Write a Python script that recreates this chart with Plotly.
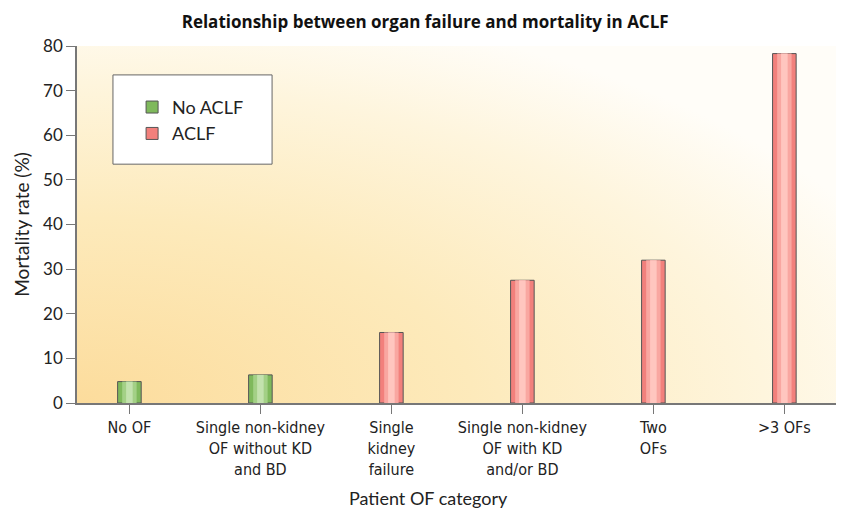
import base64
import plotly.graph_objects as go

# data
categories = [
    "No OF",
    "Single non-kidney<br>OF without KD<br>and BD",
    "Single<br>kidney<br>failure",
    "Single non-kidney<br>OF with KD<br>and/or BD",
    "Two<br>OFs",
    ">3 OFs",
]
no_aclf_cats = categories[:2]
no_aclf_vals = [4.8, 6.3]
aclf_cats = categories[2:]
aclf_vals = [15.8, 27.5, 32.0, 78.3]
y_ticks = [0, 10, 20, 30, 40, 50, 60, 70, 80]

# warm radial background, drawn as an svg image behind the plot area
svg = """<svg xmlns='http://www.w3.org/2000/svg' width='765' height='357' preserveAspectRatio='none'>
<defs><radialGradient id='g' cx='0' cy='1' r='1.15' gradientUnits='objectBoundingBox'>
<stop offset='0' stop-color='#fcdc9c'/>
<stop offset='0.45' stop-color='#fdeabb'/>
<stop offset='0.78' stop-color='#fef5dd'/>
<stop offset='1' stop-color='#fffdf8'/>
</radialGradient></defs>
<rect width='100%' height='100%' fill='url(#g)'/></svg>"""
bg_src = "data:image/svg+xml;base64," + base64.b64encode(svg.encode()).decode()

outline = "#555555"
label_font = "Lato, Open Sans, sans-serif"

fig = go.Figure()

fig.add_trace(go.Bar(
    x=no_aclf_cats, y=no_aclf_vals, name="No ACLF", width=0.18,
    marker=dict(color="#7fb95c", line=dict(color=outline, width=1)),
))
fig.add_trace(go.Bar(
    x=aclf_cats, y=aclf_vals, name="ACLF", width=0.18,
    marker=dict(color="#f2807c", line=dict(color=outline, width=1)),
))
# lighter strips down the middle of each bar for the rounded look
for cats, vals, mid, light in [
    (no_aclf_cats, no_aclf_vals, "#a3d086", "#c3e2ae"),
    (aclf_cats, aclf_vals, "#f9a7a1", "#ffc6bf"),
]:
    fig.add_trace(go.Bar(
        x=cats, y=vals, width=0.11, showlegend=False, hoverinfo="skip",
        marker=dict(color=mid, line=dict(width=0)),
    ))
    fig.add_trace(go.Bar(
        x=cats, y=vals, width=0.05, showlegend=False, hoverinfo="skip",
        marker=dict(color=light, line=dict(width=0)),
    ))

# the page body adds an 8px margin, so the figure is 8px smaller than the window
fig.update_layout(
    width=836, height=500,
    margin=dict(l=69, r=2, t=38, b=105),
    paper_bgcolor="white", plot_bgcolor="white",
    barmode="overlay",
    title=dict(
        text="<b>Relationship between organ failure and mortality in ACLF</b>",
        x=0.499, xanchor="center", y=0.972, yanchor="middle",
        font=dict(family="Open Sans, sans-serif", size=17, color="#111"),
    ),
    images=[dict(source=bg_src, xref="paper", yref="paper", x=0, y=1,
                 sizex=1, sizey=1, sizing="stretch", layer="below")],
    shapes=[dict(type="rect", xref="paper", yref="paper",
                 x0=0.047, x1=0.255, y0=0.669, y1=0.919,
                 fillcolor="white", line=dict(color="#666", width=1), layer="below")],
    annotations=[dict(text="Patient OF category", xref="paper", yref="paper",
                      x=0.46, y=-0.265, xanchor="center", yanchor="middle",
                      showarrow=False, font=dict(family=label_font, size=18, color="#222"))],
    legend=dict(
        x=0.072, y=0.88, xanchor="left", yanchor="top",
        bgcolor="rgba(0,0,0,0)", borderwidth=0,
        font=dict(family=label_font, size=18, color="#222"),
        traceorder="normal",
    ),
    showlegend=True,
)

fig.update_xaxes(
    type="category", categoryorder="array", categoryarray=categories,
    range=[-0.4, 5.44],
    showline=True, linecolor="#777", linewidth=1.5,
    ticks="outside", ticklen=9, tickcolor="#777",
    showgrid=False,
    tickfont=dict(family="DejaVu Sans Condensed, Roboto Condensed, Roboto, sans-serif",
                  size=16, color="#222"),
)
fig.update_yaxes(
    range=[0, 80], tickvals=y_ticks,
    showline=True, linecolor="#777", linewidth=1.5,
    ticks="outside", ticklen=9, tickcolor="#777",
    showgrid=False, zeroline=False,
    tickfont=dict(family=label_font, size=17, color="#222"),
    title=dict(text="Mortality rate (%)", standoff=8,
               font=dict(family=label_font, size=19, color="#222")),
)

fig.write_html("out.html")
